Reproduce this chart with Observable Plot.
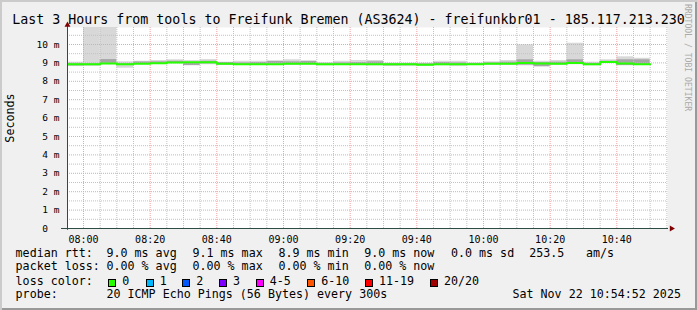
<!DOCTYPE html>
<html><head><meta charset="utf-8">
<script src="https://cdn.jsdelivr.net/npm/d3@7"></script>
<script src="https://cdn.jsdelivr.net/npm/@observablehq/plot@0.6"></script>
<style>
body{margin:0;background:#fff;}
#card{position:relative;width:697px;height:310px;background:#f0f0f0;box-shadow:inset 2px 2px 0 #cbcbcb, inset -2px -2px 0 #999;font-family:"DejaVu Sans Mono",monospace;color:#000;overflow:hidden;}
.t{position:absolute;white-space:pre;line-height:1;}
#card svg{position:absolute;left:0;top:19px;}
</style></head><body><div id="card"></div>
<script>
// ---- data ----
const title = "Last 3 Hours from tools to Freifunk Bremen (AS3624) - freifunkbr01 - 185.117.213.230";
const yLabel = "Seconds";
const credit = "RRDTOOL / TOBI OETIKER";
const stepStart = ["07:55","08:00","08:05","08:10","08:15","08:20","08:25","08:30","08:35","08:40","08:45","08:50","08:55","09:00","09:05","09:10","09:15","09:20","09:25","09:30","09:35","09:40","09:45","09:50","09:55","10:00","10:05","10:10","10:15","10:20","10:25","10:30","10:35","10:40","10:45"];
const median  = [8.93,8.93,8.97,8.93,8.95,8.98,9.02,9.04,9.03,8.95,8.93,8.93,8.93,8.95,8.95,8.93,8.93,8.93,8.93,8.93,8.93,8.90,8.93,8.93,8.93,8.95,8.95,9.00,8.97,8.95,9.00,8.93,9.05,8.97,8.93];
const outerLo = [8.80,8.84,8.90,8.71,8.90,8.92,8.95,8.84,8.90,8.86,8.88,8.88,8.88,8.88,8.88,8.84,8.88,8.88,8.84,8.82,8.80,8.82,8.84,8.80,8.88,8.88,8.88,8.84,8.77,8.88,8.90,8.84,8.97,8.84,8.88];
const outerHi = [9.04,11.5,11.5,9.06,9.09,9.13,9.17,9.13,9.18,9.04,9.09,9.09,9.09,9.17,9.09,9.02,9.09,9.13,9.13,8.99,8.99,8.99,9.09,9.09,9.00,9.06,9.13,9.98,9.09,9.13,10.07,9.04,9.17,9.33,9.25];
const innerLo = [8.84,8.84,8.97,8.88,8.93,8.95,8.98,8.86,8.95,8.88,8.90,8.90,8.93,8.90,8.95,8.86,8.90,8.90,8.86,8.84,8.88,8.84,8.86,8.86,8.90,8.90,8.90,8.88,8.80,8.90,8.93,8.86,9.00,8.86,8.90];
const innerHi = [8.95,8.95,9.18,8.95,9.05,9.06,9.09,9.00,9.09,9.02,9.00,9.02,9.09,9.06,9.09,8.95,9.00,9.02,9.06,8.95,8.95,8.95,9.02,9.00,8.97,9.00,9.04,9.17,9.02,9.04,9.17,8.97,9.09,9.17,9.17];
const xTickLabels = ["08:00","08:20","08:40","09:00","09:20","09:40","10:00","10:20","10:40"];
const yTicks = [0,1,2,3,4,5,6,7,8,9,10];
const rttKinds = ["avg","max","min","now","sd"];
const rttValues = [9.0, 9.1, 8.9, 9.0, 0.0];
const amPerS = 253.5;
const lossKinds = ["avg","max","min","now"];
const lossValues = [0.00, 0.00, 0.00, 0.00];
const lossLabels = ["0","1","2","3","4-5","6-10","11-19","20/20"];
const lossColors = ["#26ff00","#00b8ff","#0059ff","#7e00ff","#ff00ff","#ff5500","#ff0000","#a10000"];
const probeText = "20 ICMP Echo Pings (56 Bytes) every 300s";
const dateText = "Sat Nov 22 10:54:52 2025";

// ---- helpers ----
const t = hm => new Date(Date.UTC(2025, 10, 22, +hm.slice(0,2), +hm.slice(3,5)));
const tStart = new Date(t("07:55").getTime() + 12000);
const tEnd = new Date(tStart.getTime() + 3*3600e3);
const secPerPx = 3*3600/600;
const shift = (d, px) => new Date(d.getTime() + px*secPerPx*1000);
const yTop = 201/18.4;
const step = 300e3;
const steps = stepStart.map((s,i) => ({x1: t(s), x2: new Date(t(s).getTime()+step), med: median[i], oLo: outerLo[i], oHi: outerHi[i], iLo: innerLo[i], iHi: innerHi[i]}));
const medLine = steps.map(d => ({x: d.x1, y: d.med})).concat([{x: steps[steps.length-1].x2, y: median[median.length-1]}]);
const xTicks = xTickLabels.map(t);
const allMinutes = d3.utcMinute.every(5).range(t("07:55"), tEnd).filter(d => d > tStart);
const majorX = allMinutes.filter(d => d.getUTCMinutes() % 20 === 0);
const minorX = allMinutes.filter(d => d.getUTCMinutes() % 20 !== 0);
const majorY = yTicks.filter(v => v > 0);
const minorY = d3.range(0.5, yTop, 1);
const AXIS = "#2c4d43", ARROW = "#7f0000";
const GRID = "#c2c2c2", MGRID = "#f2a0a0";

const chart = Plot.plot({
  width: 697, height: 231,
  marginLeft: 67, marginRight: 30, marginTop: 8, marginBottom: 22,
  style: {fontFamily: "DejaVu Sans Mono", fontSize: "10px", background: "transparent", color: "#000", overflow: "visible"},
  x: {type: "utc", domain: [tStart, tEnd]},
  y: {domain: [0, yTop]},
  marks: [
    Plot.frame({fill: "white", stroke: "none"}),
    Plot.rect(steps, {x1: "x1", x2: "x2", y1: "oLo", y2: "oHi", fill: "#d8d8d8", clip: true}),
    Plot.rect(steps, {x1: "x1", x2: "x2", y1: "iLo", y2: "iHi", fill: "#a6a6a6", clip: true}),
    Plot.ruleX(minorX, {stroke: GRID, strokeDasharray: "1,1"}),
    Plot.ruleY(minorY, {stroke: GRID, strokeDasharray: "1,1"}),
    Plot.ruleX(majorX, {stroke: MGRID, strokeDasharray: "1,1"}),
    Plot.ruleY(majorY, {stroke: MGRID, strokeDasharray: "1,1"}),
    Plot.line(medLine, {x: "x", y: "y", curve: "step-after", stroke: "#26ff00", strokeWidth: 2, clip: true}),
    Plot.axisX({ticks: xTicks, tickFormat: d3.utcFormat("%H:%M"), tickSize: 0, tickPadding: 7, fontSize: 10, label: null}),
    Plot.axisY({ticks: yTicks, tickFormat: d => d === 0 ? "0\u00a0\u00a0" : d + " m", tickSize: 0, tickPadding: 8, fontSize: 9.5, label: null}),
    Plot.ruleY([{y: 0, x1: shift(tStart, -6), x2: shift(tEnd, 1)}], {y: "y", x1: "x1", x2: "x2", stroke: AXIS}),
    Plot.ruleX([{x: tStart, y1: -0.1, y2: 11.0}], {x: "x", y1: "y1", y2: "y2", stroke: AXIS}),
    Plot.dot([{x: tStart, y: 11.06}], {x: "x", y: "y", symbol: "triangle", r: 2.2, fill: ARROW, stroke: "none"}),
    Plot.dot([{x: shift(tEnd, 4), y: 0}], {x: "x", y: "y", symbol: "triangle", r: 2.2, fill: ARROW, stroke: "none", rotate: 90})
  ]
});

// ---- page ----
const card = document.getElementById("card");
card.appendChild(chart);
function addText(txt, x, baseline, size, extra = {}) {
  const s = document.createElement("div");
  s.className = "t"; s.textContent = txt;
  s.style.left = x + "px"; s.style.top = (baseline - 0.846*size) + "px"; s.style.fontSize = size + "px";
  Object.assign(s.style, extra); card.appendChild(s); return s;
}
addText(title, 0, 24, 13.3, {width: "697px", textAlign: "center"});
addText(yLabel, 4.6, 127.5, 11.7, {transformOrigin: "0 0", transform: "rotate(-90deg) translateX(-50%)"});
addText(credit, 691.7, 4.3, 8.1, {color: "#aaaaaa", top: "4.3px", transformOrigin: "0 0", transform: "rotate(90deg)"});

const FS = 11.66;
const rows = [257.5, 271.3, 285.5, 299];
const labelX = 15.6;
const statCols = [106.5, 192.5, 278.5, 364.2, 451, 529.2, 586];
addText("median rtt:", labelX, rows[0], FS);
rttValues.forEach((v,i) => addText(`${v.toFixed(1)} ms ${rttKinds[i]}`, statCols[i], rows[0], FS));
addText(amPerS.toFixed(1), statCols[5], rows[0], FS);
addText("am/s", statCols[6], rows[0], FS);
addText("packet loss:", labelX, rows[1], FS);
lossValues.forEach((v,i) => addText(`${v.toFixed(2)} % ${lossKinds[i]}`, statCols[i], rows[1], FS));
addText("loss color:", labelX, rows[2], FS);
const boxCols = [108.3, 145.7, 182.3, 219, 255.7, 307.3, 365, 430];
lossLabels.forEach((lab,i) => {
  const b = document.createElement("div");
  Object.assign(b.style, {position: "absolute", left: boxCols[i] + "px", top: "279px", width: "6px", height: "6px", background: lossColors[i], border: "1px solid #000"});
  card.appendChild(b);
  addText(lab, boxCols[i] + 14, rows[2], FS);
});
addText("probe:", labelX, rows[3], FS);
addText(probeText, statCols[0], rows[3], FS);
addText(dateText, 512.5, rows[3], FS);
</script></body></html>
